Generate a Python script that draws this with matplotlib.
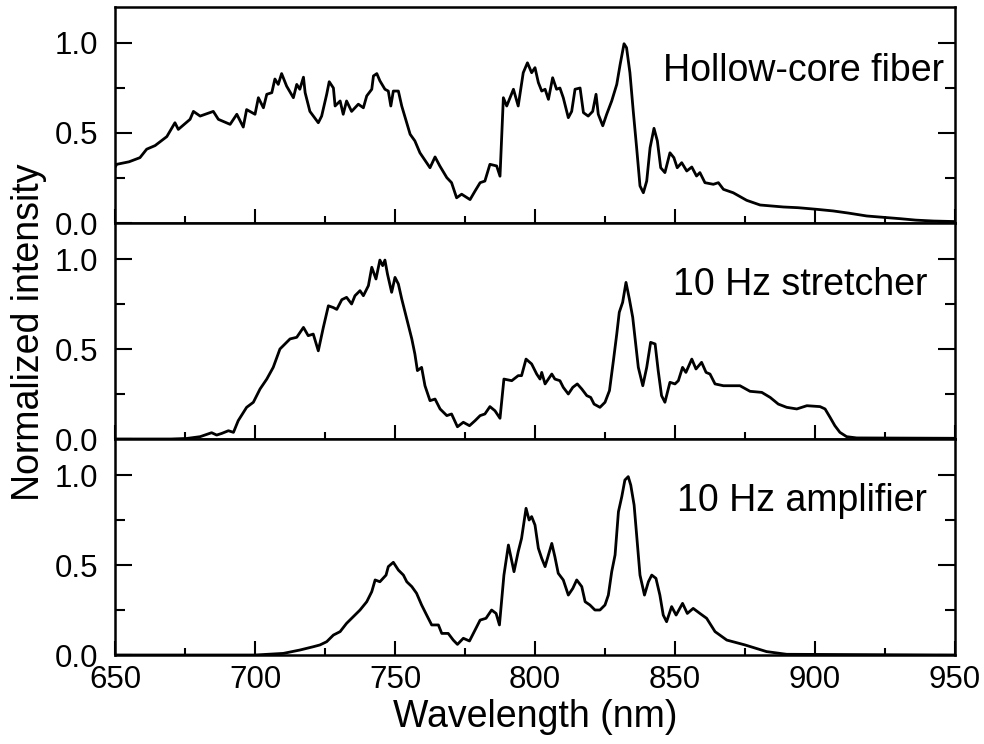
import matplotlib
matplotlib.use("Agg")
import matplotlib.pyplot as plt
from matplotlib.ticker import MultipleLocator, FormatStrFormatter

plt.rcParams['font.family'] = ['Liberation Sans', 'DejaVu Sans']

# spectra read at wavelength (nm) / normalized intensity
fiber_wl = [650, 650.6, 655, 658.9, 661.3, 664.3, 668.5, 671.4, 672.6, 676.8, 678, 680.4, 685.1, 686.9,
            691.1, 693.5, 695.8, 697, 700, 701.2, 703, 704.2, 706, 707.1, 708.3, 709.5, 711.3, 713.7,
            714.9, 716, 717.3, 717.9, 719.6, 722.6, 723.8, 725.6, 726.5, 728, 728.6, 730.4, 731.5,
            732.7, 734.5, 736.9, 738.7, 739.9, 741.7, 742.3, 743.5, 744.6, 746.4, 747.6, 748.5, 749.4,
            751.2, 752.4, 755.4, 757.1, 758.9, 762.5, 764.3, 766, 768.5, 770.2, 772, 773.8, 776.8,
            778.6, 780.4, 782.1, 783.9, 786.3, 787.5, 788.7, 789.9, 792.3, 794, 795.8, 797.3, 798.8,
            800, 801.2, 802.4, 803.6, 804.8, 806.3, 807.7, 808.9, 810.1, 811.9, 813.1, 814.3, 816.1,
            817.3, 819, 820.6, 821.8, 822.6, 824.2, 825.6, 827.4, 829.2, 830.4, 831.8, 832.7, 833.9,
            835.1, 836.3, 837.5, 838.7, 839.9, 841.1, 842.5, 843.7, 844.9, 846.4, 848.2, 849.6, 850.8,
            852.4, 854.2, 856, 857.7, 858.9, 860.7, 863.7, 865.5, 867.3, 870.8, 875.6, 880.4, 884,
            888.7, 894, 900.6, 906.5, 912, 918.5, 924, 930.4, 936, 942.3, 950]
fiber_int = [0.31, 0.326, 0.34, 0.363, 0.41, 0.43, 0.48, 0.557, 0.52, 0.576, 0.62, 0.594, 0.62, 0.576,
             0.548, 0.604, 0.533, 0.63, 0.604, 0.696, 0.64, 0.715, 0.724, 0.80, 0.77, 0.83, 0.76, 0.696,
             0.77, 0.743, 0.81, 0.724, 0.62, 0.557, 0.594, 0.715, 0.785, 0.75, 0.65, 0.678, 0.604,
             0.678, 0.62, 0.66, 0.64, 0.706, 0.743, 0.817, 0.83, 0.79, 0.743, 0.733, 0.65, 0.733,
             0.733, 0.65, 0.493, 0.456, 0.39, 0.307, 0.367, 0.317, 0.252, 0.224, 0.14, 0.16, 0.13,
             0.178, 0.224, 0.233, 0.326, 0.317, 0.26, 0.696, 0.65, 0.743, 0.65, 0.835, 0.89, 0.835,
             0.863, 0.78, 0.733, 0.743, 0.687, 0.807, 0.743, 0.75, 0.696, 0.585, 0.62, 0.743, 0.75,
             0.613, 0.594, 0.62, 0.715, 0.604, 0.54, 0.604, 0.678, 0.77, 0.88, 0.996, 0.974, 0.835,
             0.62, 0.418, 0.206, 0.168, 0.233, 0.418, 0.526, 0.456, 0.307, 0.28, 0.39, 0.363, 0.307,
             0.335, 0.289, 0.311, 0.261, 0.28, 0.224, 0.215, 0.224, 0.187, 0.168, 0.126, 0.10, 0.095,
             0.089, 0.085, 0.076, 0.067, 0.055, 0.039, 0.032, 0.024, 0.016, 0.011, 0.008]

stretcher_wl = [650, 670, 675.6, 680.4, 684.5, 686.3, 688.1, 690.5, 692.3, 694, 697, 699.4, 701.8,
                704.2, 706.5, 708.9, 710.7, 712.5, 714.9, 717.3, 719, 720.8, 722.6, 724.4, 726.2, 728,
                729.2, 731, 732.7, 734.5, 735.7, 737.5, 738.7, 740.5, 741.7, 743.2, 744.6, 745.6,
                746.4, 747.3, 748.8, 750, 751.2, 752.4, 754.2, 756, 757.1, 758, 759.5, 760.7, 762.5,
                764.3, 766.1, 768.5, 770.2, 772.3, 774.4, 776.6, 778.6, 780.4, 782.1, 783.9, 785.7,
                787.5, 788.9, 791.7, 794, 795.2, 796.8, 798.8, 800.6, 801.8, 802.4, 803.6, 806, 807.1,
                808.9, 810.1, 811.9, 813.5, 815.1, 816.7, 818.5, 819.9, 821.1, 823.2, 825, 826.6, 828,
                829.2, 830.1, 831.3, 832.5, 833.7, 834.9, 835.7, 836.9, 838.5, 839.9, 841.3, 842.9,
                844, 845.2, 846.4, 848.2, 850, 851.2, 852.7, 853.9, 856, 857.5, 859.5, 861.1, 862.5,
                864.3, 867.3, 870.8, 873.2, 876.8, 881, 884, 886.9, 889.9, 893.5, 897.1, 901.8, 903.6,
                905.4, 907.1, 908.9, 911.3, 914.9, 950]
stretcher_int = [0.0, 0.0, 0.003, 0.013, 0.035, 0.022, 0.031, 0.046, 0.037, 0.102, 0.176, 0.204,
                 0.278, 0.333, 0.398, 0.5, 0.528, 0.556, 0.565, 0.62, 0.574, 0.583, 0.49, 0.62, 0.74,
                 0.73, 0.72, 0.774, 0.787, 0.75, 0.796, 0.824, 0.796, 0.852, 0.954, 0.889, 0.994,
                 0.963, 0.994, 0.917, 0.815, 0.898, 0.861, 0.778, 0.667, 0.556, 0.472, 0.38, 0.398,
                 0.296, 0.213, 0.222, 0.167, 0.13, 0.139, 0.068, 0.093, 0.074, 0.102, 0.13, 0.139,
                 0.18, 0.157, 0.115, 0.333, 0.324, 0.352, 0.352, 0.444, 0.417, 0.361, 0.333, 0.37,
                 0.306, 0.361, 0.333, 0.324, 0.287, 0.25, 0.287, 0.306, 0.278, 0.241, 0.231, 0.194,
                 0.176, 0.204, 0.269, 0.435, 0.583, 0.704, 0.759, 0.87, 0.778, 0.676, 0.565, 0.398,
                 0.296, 0.398, 0.537, 0.528, 0.38, 0.241, 0.204, 0.315, 0.306, 0.324, 0.398, 0.37,
                 0.444, 0.389, 0.426, 0.37, 0.361, 0.306, 0.296, 0.296, 0.296, 0.265, 0.259, 0.231,
                 0.194, 0.176, 0.167, 0.185, 0.18, 0.167, 0.12, 0.074, 0.037, 0.013, 0.006, 0.004]

amplifier_wl = [650, 700, 710.1, 716.1, 720.8, 723.2, 725.6, 728, 730.4, 732.7, 735.1, 737.5, 739.9,
                741.7, 742.9, 744.6, 746.8, 747.6, 749.4, 751.2, 753, 754.2, 756, 757.7, 759.5, 761.3,
                763.1, 765.5, 766.7, 769, 770.8, 772.3, 774.4, 776.6, 778.6, 780.4, 782.5, 784.5,
                786.1, 787.3, 788.9, 790.5, 792.5, 794, 795.2, 796.8, 797.9, 798.8, 800, 801.2, 802.4,
                803.6, 804.8, 806, 807.1, 808.3, 810.1, 811.9, 813.5, 814.9, 816.7, 817.9, 819.6,
                821.4, 823.2, 825, 826.2, 827.4, 828.6, 829.8, 831, 832.1, 833.3, 834.2, 835.4, 836.3,
                837.5, 839.1, 840.5, 841.7, 843.2, 844.6, 845.8, 847, 848.8, 850.4, 852.7, 854.4,
                856.5, 858.9, 861.3, 864.3, 868.5, 875, 882.7, 889.9, 950]
amplifier_int = [0.0, 0.0, 0.009, 0.028, 0.046, 0.056, 0.074, 0.111, 0.13, 0.176, 0.213, 0.25, 0.296,
                 0.352, 0.417, 0.407, 0.444, 0.491, 0.515, 0.472, 0.444, 0.407, 0.38, 0.343, 0.278,
                 0.222, 0.167, 0.167, 0.12, 0.12, 0.083, 0.059, 0.093, 0.078, 0.139, 0.194, 0.204,
                 0.25, 0.231, 0.167, 0.444, 0.611, 0.463, 0.574, 0.648, 0.815, 0.75, 0.769, 0.722,
                 0.593, 0.537, 0.491, 0.556, 0.62, 0.546, 0.454, 0.417, 0.333, 0.37, 0.417, 0.38,
                 0.296, 0.278, 0.25, 0.25, 0.278, 0.333, 0.463, 0.556, 0.796, 0.88, 0.972, 0.991,
                 0.944, 0.833, 0.667, 0.444, 0.333, 0.407, 0.444, 0.426, 0.333, 0.222, 0.185, 0.269,
                 0.222, 0.287, 0.231, 0.259, 0.231, 0.204, 0.13, 0.083, 0.056, 0.019, 0.004, 0.0]

labels = ["Hollow-core fiber", "10 Hz stretcher", "10 Hz amplifier"]
label_x = [946, 940, 940]
label_y = [0.79, 0.80, 0.80]

fig, axes = plt.subplots(3, 1, sharex=True, figsize=(9.84, 7.44), dpi=100,
                         gridspec_kw=dict(hspace=0))
fig.subplots_adjust(left=0.1169, right=0.9705, bottom=0.1196, top=0.9906)

series = [(fiber_wl, fiber_int), (stretcher_wl, stretcher_int), (amplifier_wl, amplifier_int)]
for ax, (wl, inten), lab, lx, ly in zip(axes, series, labels, label_x, label_y):
    ax.plot(wl, inten, color='black', lw=2.0)
    ax.set_xlim(650, 950)
    ax.set_ylim(0, 1.2)
    ax.yaxis.set_major_locator(MultipleLocator(0.5))
    ax.yaxis.set_minor_locator(MultipleLocator(0.25))
    ax.xaxis.set_major_locator(MultipleLocator(50))
    ax.xaxis.set_minor_locator(MultipleLocator(25))
    ax.yaxis.set_major_formatter(FormatStrFormatter('%.1f'))
    for s in ax.spines.values():
        s.set_linewidth(1.8)
    ax.tick_params(axis='both', which='both', direction='in', width=1.5, labelsize=22.5,
                   right=True, top=False)
    ax.tick_params(axis='x', which='major', length=10, pad=7)
    ax.tick_params(axis='x', which='minor', length=5)
    ax.tick_params(axis='y', which='major', length=12, pad=12)
    ax.tick_params(axis='y', which='minor', length=7)
    ax.text(lx, ly, lab, fontsize=27, ha='right', va='baseline')

axes[-1].set_xlabel("Wavelength (nm)", fontsize=27, labelpad=3)
fig.text(0.029, 0.554, "Normalized intensity", fontsize=27, rotation=90,
         ha='center', va='center')

plt.savefig("out.png", dpi=100)
